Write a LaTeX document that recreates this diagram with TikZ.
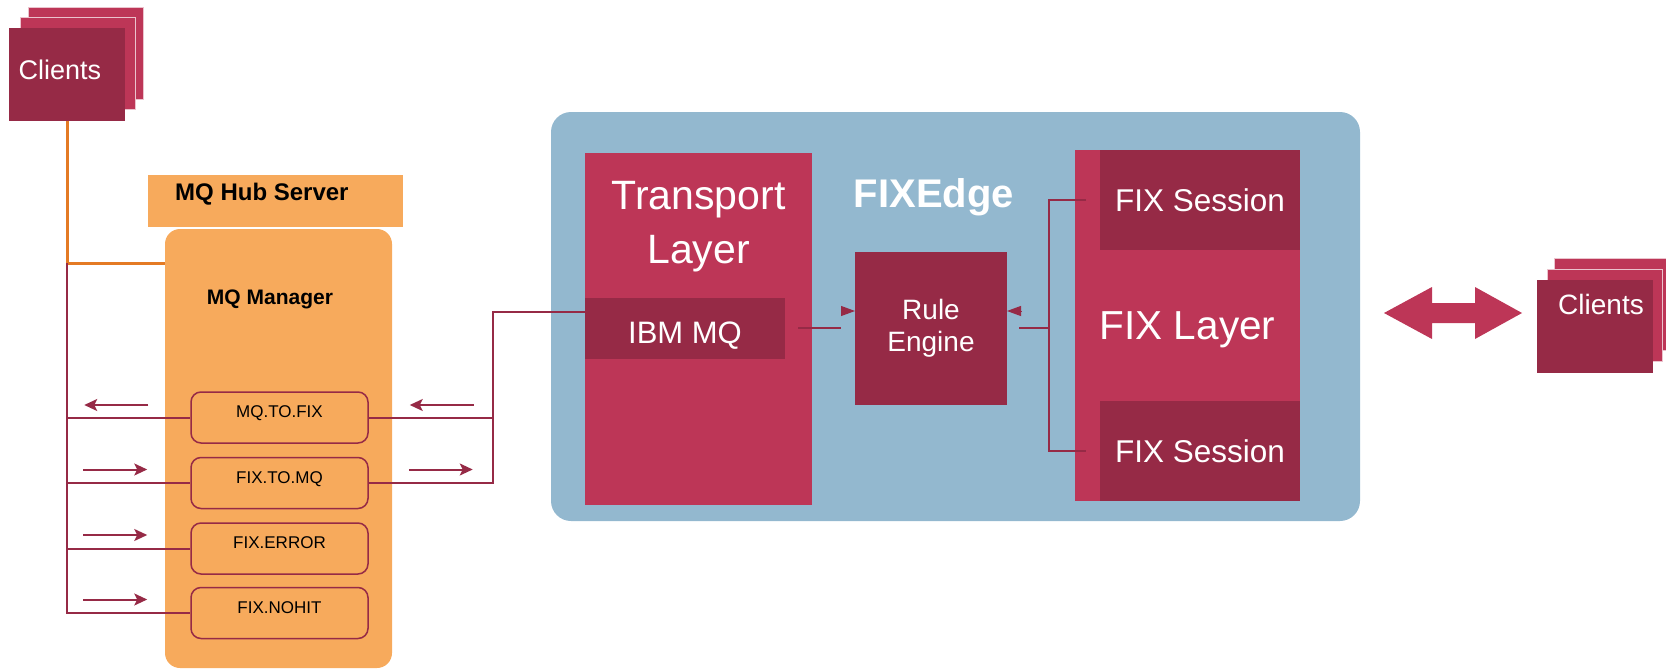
\documentclass[tikz,border=0pt]{standalone}
\usepackage{fontspec}
\setmainfont{Liberation Sans}
\usetikzlibrary{positioning,arrows.meta}
\definecolor{wine}{RGB}{150,42,70}
\definecolor{crimson}{RGB}{189,54,87}
\definecolor{edgeblue}{RGB}{147,184,207}
\definecolor{hub}{RGB}{247,170,92}
\definecolor{hubline}{RGB}{228,122,36}
\tikzset{
    block/.style={inner sep=0pt, outer sep=0pt, text=white, align=center},
    darkblock/.style={block, fill=wine},
    lightblock/.style={block, fill=crimson},
    card/.style={lightblock, draw=crimson!30!white, line width=1pt, minimum width=115pt, minimum height=92pt},
    client/.style={darkblock, minimum width=116pt, minimum height=93pt},
    clienttext/.style={text=white, inner sep=0pt, font=\fontsize{27}{30}\selectfont},
    session/.style={darkblock, minimum width=200pt, minimum height=100pt, font=\fontsize{31.5}{36}\selectfont},
    hubbox/.style={fill=hub, inner sep=0pt, outer sep=0pt},
    hubtext/.style={inner sep=0pt, font=\bfseries\fontsize{24}{28}\selectfont},
    queue/.style={draw=wine, line width=1.5pt, rounded corners=10pt, minimum width=177pt, minimum height=51pt, text height=12pt, text depth=12pt, inner sep=0pt, font=\fontsize{17}{20}\selectfont},
    wire/.style={draw=wine, line width=2pt},
    hubwire/.style={draw=hubline, line width=3pt},
    flow/.style={draw=wine, line width=2pt, -{Stealth[length=13pt,width=12pt,inset=3pt]}},
    stub/.style={wine, line width=1pt, -{Triangle[length=14pt,width=10pt]}},
}

\begin{document}
\begin{tikzpicture}[x=1pt,y=-1pt]
    \useasboundingbox (0,0) rectangle (1666,669);
    \node[card] (cl3) at (85.5,53.5) {};
    \node[card] (cl2) at (78,63.5) {};
    \node[client] (cl1) at (67,74.5) {};
    \node[clienttext] (cl1txt) at ([xshift=-7pt,yshift=4.5pt]cl1.center) {Clients};

    \node[hubbox, minimum width=255pt, minimum height=52pt] (hub) at (275.5,201) {};
    \node[hubtext, anchor=west] (hubtxt) at ([xshift=27pt,yshift=6.5pt]hub.west) {MQ Hub Server};
    \node[hubbox, rounded corners=15pt, minimum width=227pt, minimum height=439pt] (mgr) at (278.5,448.5) {};
    \node[hubtext, font=\bfseries\fontsize{21}{24}\selectfont] (mgrtxt) at ([xshift=-8.5pt,yshift=-70.5pt]mgr.north) {MQ Manager};

    \node[queue] (q1) at (279.5,417.5) {MQ.TO.FIX};
    \node[queue, below=13pt of q1] (q2) {FIX.TO.MQ};
    \node[queue, below=13pt of q2] (q3) {FIX.ERROR};
    \node[queue, below=12pt of q3] (q4) {FIX.NOHIT};

    \node[hubbox, fill=edgeblue, rounded corners=20pt, minimum width=809pt, minimum height=409pt] (fe) at (955.5,316.5) {};
    \node[block, font=\bfseries\fontsize{40}{44}\selectfont] (fetxt) at (934,197) {FIXEdge};
    \node[lightblock, minimum width=227pt, minimum height=352pt] (tl) at (698.5,329) {};
    \node[block, anchor=north, font=\fontsize{41}{54}\selectfont] (tltxt) at ([yshift=-28pt]tl.north) {Transport\\Layer};
    \node[darkblock, anchor=west, minimum width=200pt, minimum height=61pt, text height=30pt, text depth=0pt, font=\fontsize{31}{36}\selectfont] (ibm) at (tl.west |- 0,328) {IBM MQ};
    \node[darkblock, minimum width=152pt, minimum height=153pt, font=\fontsize{28}{32}\selectfont] (rule) at (931,328) {Rule\\Engine};
    \node[lightblock, minimum width=225pt, minimum height=351pt, text depth=0pt, font=\fontsize{40.5}{44}\selectfont] (fix) at (1187.5,325.5) {FIX Layer};
    \node[session, anchor=north east] (fs1) at (fix.north east) {FIX Session};
    \node[session, anchor=south east] (fs2) at (fix.south east) {FIX Session};

    \node[card] (cr3) at (1611.5,304.5) {};
    \node[card] (cr2) at (1604.5,315) {};
    \node[client] (cr1) at (1594.5,326) {};
    \node[clienttext, font=\fontsize{28}{30}\selectfont] (cr1txt) at ([xshift=6.5pt,yshift=22pt]cr1.center) {Clients};

    \coordinate (tap) at (67,263);
    \coordinate (rbus) at (493,312);
    \coordinate (fork) at (1049,328);

    \draw[hubwire] (cl1.south) -- (tap) -- (tap -| mgr.west);
    \draw[wire] (tap) |- (q4.west);
    \draw[wire] (tap |- q1.west) -- (q1.west);
    \draw[wire] (tap |- q2.west) -- (q2.west);
    \draw[wire] (tap |- q3.west) -- (q3.west);
    \draw[wire] (q1.east) -- (q1.east -| rbus);
    \draw[wire] (q2.east) -| (rbus) -- (rbus -| tl.west);

    \draw[flow] ([xshift=-42pt,yshift=12.5pt]q1.west) -- ++(-64,0);
    \draw[flow] ([xshift=-107pt,yshift=13.5pt]q2.west) -- ++(64,0);
    \draw[flow] ([xshift=-107pt,yshift=13.5pt]q3.west) -- ++(64,0);
    \draw[flow] ([xshift=-107pt,yshift=13.5pt]q4.west) -- ++(64,0);
    \draw[flow] ([xshift=105pt,yshift=12.5pt]q1.east) -- ++(-64,0);
    \draw[flow] ([xshift=40pt,yshift=13.5pt]q2.east) -- ++(64,0);

    \draw[wire] ([xshift=13pt]ibm.east) -- ([xshift=-14pt]rule.west);
    \draw[stub] ([xshift=-14pt,yshift=17pt]rule.west) -- ([yshift=17pt]rule.west);
    \draw[wire] ([xshift=12pt]rule.east) -- (fork);
    \draw[stub] ([xshift=14pt,yshift=17pt]rule.east) -- ([yshift=17pt]rule.east);
    \draw[wire] ([xshift=-14pt]fs1.west) -| (fork) |- ([xshift=-14pt]fs2.west);

    \fill[crimson] (1384,313) -- (1432,287) -- (1432,303) -- (1475,303) -- (1475,287) -- (1522,313)
        -- (1475,339) -- (1475,323) -- (1432,323) -- (1432,339) -- cycle;
\end{tikzpicture}
\end{document}
